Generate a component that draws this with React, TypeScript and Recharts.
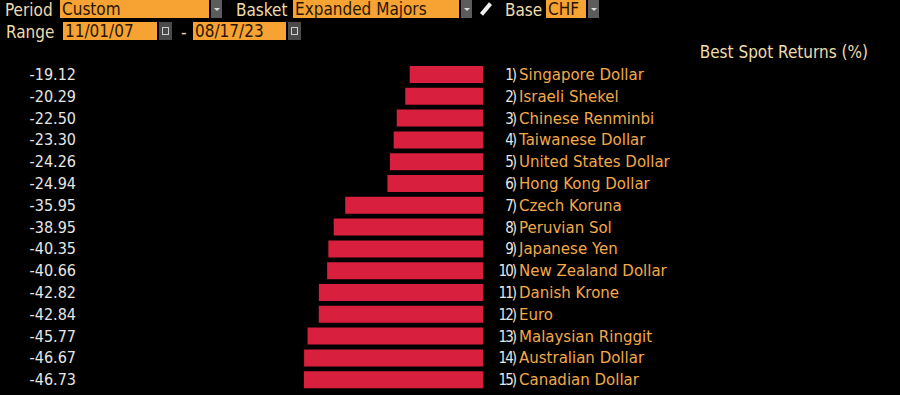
import React from 'react';
import { BarChart, Bar, XAxis, YAxis } from 'recharts';

const currencies = [
  'Singapore Dollar', 'Israeli Shekel', 'Chinese Renminbi', 'Taiwanese Dollar', 'United States Dollar',
  'Hong Kong Dollar', 'Czech Koruna', 'Peruvian Sol', 'Japanese Yen', 'New Zealand Dollar',
  'Danish Krone', 'Euro', 'Malaysian Ringgit', 'Australian Dollar', 'Canadian Dollar',
];
const returns = [
  -19.12, -20.29, -22.5, -23.3, -24.26, -24.94, -35.95, -38.95, -40.35, -40.66,
  -42.82, -42.84, -45.77, -46.67, -46.73,
];

const data = currencies.map((name, i) => ({ name, value: returns[i], rank: i + 1 }));

const FONT = '"DejaVu Sans Condensed", "Liberation Sans Narrow", "DejaVu Sans", sans-serif';
const WIDE = '"DejaVu Sans", sans-serif';
const ORANGE_BOX = '#f6a334';
const TAN = '#eedcac';

const ValueTick = (props: any) => {
  const d = data[props.index];
  if (!d) return null;
  return (
    <text x={76} y={props.y} dy={5} textAnchor="end" fill="#e6e6e6" fontSize={16} fontFamily={FONT}>
      {d.value.toFixed(2)}
    </text>
  );
};

const NameTick = (props: any) => {
  const d = data[props.index];
  if (!d) return null;
  return (
    <g>
      <text x={515} y={props.y} dy={5} textAnchor="end" fill="#e6e6e6" fontSize={15} letterSpacing={-2} fontFamily={FONT}>
        {d.rank + ')'}
      </text>
      <text x={519} y={props.y} dy={5} fill="#f2a94a" fontSize={15} fontFamily={WIDE}>
        {d.name}
      </text>
    </g>
  );
};

const Box = ({ left, width, text, top }: { left: number; width: number; text: string; top: number }) => (
  <div style={{ position: 'absolute', left, top, width, height: 18, background: ORANGE_BOX, color: '#2a1600', fontSize: 17, lineHeight: '18px', paddingLeft: 2, boxSizing: 'border-box', fontFamily: FONT, overflow: 'hidden', whiteSpace: 'nowrap' }}>
    {text}
  </div>
);

const Arrow = ({ left, top }: { left: number; top: number }) => (
  <div style={{ position: 'absolute', left, top, width: 11, height: 18, background: '#5c5c5c' }}>
    <div style={{ position: 'absolute', left: 3, top: 8, width: 0, height: 0, borderLeft: '3px solid transparent', borderRight: '3px solid transparent', borderTop: '3px solid #ddd' }} />
  </div>
);

const Cal = ({ left, top }: { left: number; top: number }) => (
  <div style={{ position: 'absolute', left, top, width: 13, height: 18, background: '#4a4a4a' }}>
    <div style={{ position: 'absolute', left: 3, top: 5, width: 7, height: 8, border: '1px solid #ccc', boxSizing: 'border-box' }} />
  </div>
);

const Label = ({ left, top, text }: { left: number; top: number; text: string }) => (
  <div style={{ position: 'absolute', left, top, color: TAN, fontSize: 17, lineHeight: '18px', fontFamily: FONT }}>{text}</div>
);

export default function App() {
  return (
    <div style={{ position: 'fixed', left: 0, top: 0, width: 900, height: 395, background: '#000', overflow: 'hidden' }}>
      <Label left={5} top={1} text="Period" />
      <Box left={60} top={0} width={149} text="Custom" />
      <Arrow left={211} top={0} />
      <Label left={236} top={1} text="Basket" />
      <Box left={293} top={0} width={166} text="Expanded Majors" />
      <Arrow left={461} top={0} />
      <div style={{ position: 'absolute', left: 484, top: 2, width: 4, height: 14, background: '#eee', transform: 'rotate(40deg)' }} />
      <Label left={505} top={1} text="Base" />
      <Box left={546} top={0} width={40} text="CHF" />
      <Arrow left={588} top={0} />
      <Label left={6} top={23} text="Range" />
      <Box left={63} top={22} width={94} text="11/01/07" />
      <Cal left={159} top={22} />
      <Label left={181} top={23} text="-" />
      <Box left={193} top={22} width={93} text="08/17/23" />
      <Cal left={288} top={22} />
      <div style={{ position: 'absolute', right: 32, top: 42, color: TAN, fontSize: 17, fontFamily: FONT }}>Best Spot Returns (%)</div>
      <div style={{ position: 'absolute', left: 0, top: 0 }}>
        <BarChart width={900} height={395} data={data} layout="vertical" margin={{ top: 64, right: 0, bottom: 4, left: 0 }}>
          <XAxis type="number" domain={[-60, 0]} hide />
          <YAxis yAxisId="left" type="category" dataKey="name" orientation="left" width={253} axisLine={false} tickLine={false} tick={<ValueTick />} interval={0} />
          <YAxis yAxisId="right" type="category" dataKey="name" orientation="right" width={417} axisLine={false} tickLine={false} tick={<NameTick />} interval={0} />
          <Bar yAxisId="left" dataKey="value" fill="#d81f3e" barSize={17} isAnimationActive={false} />
        </BarChart>
      </div>
    </div>
  );
}
